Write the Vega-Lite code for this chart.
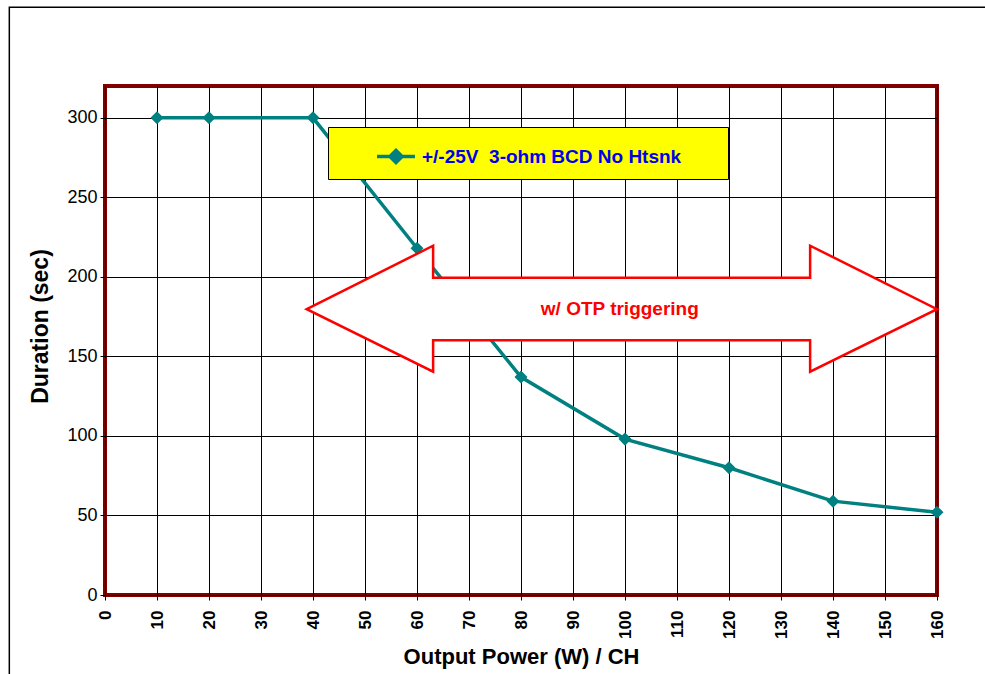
{
  "$schema": "https://vega.github.io/schema/vega-lite/v6.json",
  "autosize": {"type": "none"},
  "width": 832,
  "height": 509,
  "padding": {"left": 105, "top": 86, "right": 48, "bottom": 79},
  "background": "#ffffff",
  "config": {
    "font": "Liberation Sans",
    "view": {"stroke": "#800000", "strokeWidth": 4, "fill": "#ffffff"},
    "axis": {"domain": false, "grid": true, "gridColor": "#000000", "gridOpacity": 1, "gridWidth": 1, "tickColor": "#000000", "tickSize": 5, "labelColor": "#000000", "titleColor": "#000000", "labelFont": "Liberation Sans", "titleFont": "Liberation Sans"}
  },
  "datasets": {
    "series": [
      {"power": 10, "duration": 300, "series": "+/-25V  3-ohm BCD No Htsnk"},
      {"power": 20, "duration": 300, "series": "+/-25V  3-ohm BCD No Htsnk"},
      {"power": 40, "duration": 300, "series": "+/-25V  3-ohm BCD No Htsnk"},
      {"power": 60, "duration": 218, "series": "+/-25V  3-ohm BCD No Htsnk"},
      {"power": 80, "duration": 137, "series": "+/-25V  3-ohm BCD No Htsnk"},
      {"power": 100, "duration": 98, "series": "+/-25V  3-ohm BCD No Htsnk"},
      {"power": 120, "duration": 80, "series": "+/-25V  3-ohm BCD No Htsnk"},
      {"power": 140, "duration": 59, "series": "+/-25V  3-ohm BCD No Htsnk"},
      {"power": 160, "duration": 52, "series": "+/-25V  3-ohm BCD No Htsnk"}
    ],
    "arrow": [
      {"i": 0, "x": 38.8, "top": 179.7, "bottom": 179.7},
      {"i": 1, "x": 63.1, "top": 219.6, "bottom": 140.4},
      {"i": 2, "x": 63.1, "top": 199.5, "bottom": 160.2},
      {"i": 3, "x": 135.6, "top": 199.5, "bottom": 160.2},
      {"i": 4, "x": 135.6, "top": 219.6, "bottom": 140.4},
      {"i": 5, "x": 160, "top": 179.7, "bottom": 179.7}
    ],
    "note": [
      {"x": 99, "y": 180, "text": "w/ OTP triggering"}
    ]
  },
  "layer": [
    {
      "data": {"values": [{}]},
      "mark": {"type": "rect", "fill": null, "fillOpacity": 0, "stroke": "#000000", "strokeWidth": 1.5, "clip": false},
      "encoding": {
        "x": {"datum": -18.4, "type": "quantitative"},
        "x2": {"datum": 180},
        "y": {"datum": 369.5, "type": "quantitative"},
        "y2": {"datum": -70}
      }
    },
    {
      "data": {"name": "series"},
      "mark": {"type": "line", "color": "#008080", "strokeWidth": 3.5, "point": {"shape": "diamond", "size": 170, "filled": true, "color": "#008080"}},
      "encoding": {
        "x": {"field": "power", "type": "quantitative",
              "scale": {"domain": [0, 160], "nice": false, "zero": true},
              "axis": {"values": [0,10,20,30,40,50,60,70,80,90,100,110,120,130,140,150,160], "labelAngle": 270, "labelFontSize": 17, "labelFontWeight": "bold", "labelPadding": 10, "title": "Output Power (W) / CH", "titleFontSize": 22, "titleFontWeight": "bold", "titlePadding": 8}},
        "y": {"field": "duration", "type": "quantitative",
              "scale": {"domain": [0, 320], "nice": false},
              "axis": {"values": [0,50,100,150,200,250,300], "labelFontSize": 18, "labelFontWeight": "normal", "labelPadding": 3, "title": "Duration (sec)", "titleFontSize": 23, "titleFontWeight": "bold", "titlePadding": 14, "titleY": 240}},
        "color": {"field": "series", "type": "nominal",
                  "scale": {"range": ["#008080"]},
                  "legend": {"orient": "none", "legendX": 223, "legendY": 41, "title": "\u00a0", "titleOrient": "right", "titlePadding": 38, "titleFontSize": 18,
                             "fillColor": "#ffff00", "strokeColor": "#000000", "padding": 8.5,
                             "symbolType": "M-1,0L1,0M-0.32,0L0,-0.32L0.32,0L0,0.32Z", "symbolSize": 1444,
                             "symbolOffset": 38.5, "labelOffset": 5,
                             "labelFont": "Liberation Sans", "labelFontSize": 19, "labelFontWeight": "bold", "labelColor": "#0000ee",
                             "labelExpr": "replace(datum.label, '  ', ' \u00a0')",
                             "labelLimit": 600,
                             "encode": {"symbols": {"update": {"fill": {"value": "#008080"}, "stroke": {"value": "#008080"}, "strokeWidth": {"value": 3.5}, "opacity": {"value": 1}}}}}}
      }
    },
    {
      "data": {"name": "arrow"},
      "mark": {"type": "area", "fill": "#ffffff", "stroke": "#ff0000", "strokeWidth": 2.5, "fillOpacity": 1, "orient": "vertical"},
      "encoding": {
        "x": {"field": "x", "type": "quantitative"},
        "y": {"field": "top", "type": "quantitative"},
        "y2": {"field": "bottom"}
      }
    },
    {
      "data": {"name": "note"},
      "mark": {"type": "text", "color": "#ff0000", "fontSize": 19, "fontWeight": "bold", "font": "Liberation Sans", "align": "center", "baseline": "middle"},
      "encoding": {
        "x": {"field": "x", "type": "quantitative"},
        "y": {"field": "y", "type": "quantitative"},
        "text": {"field": "text"}
      }
    }
  ]
}
